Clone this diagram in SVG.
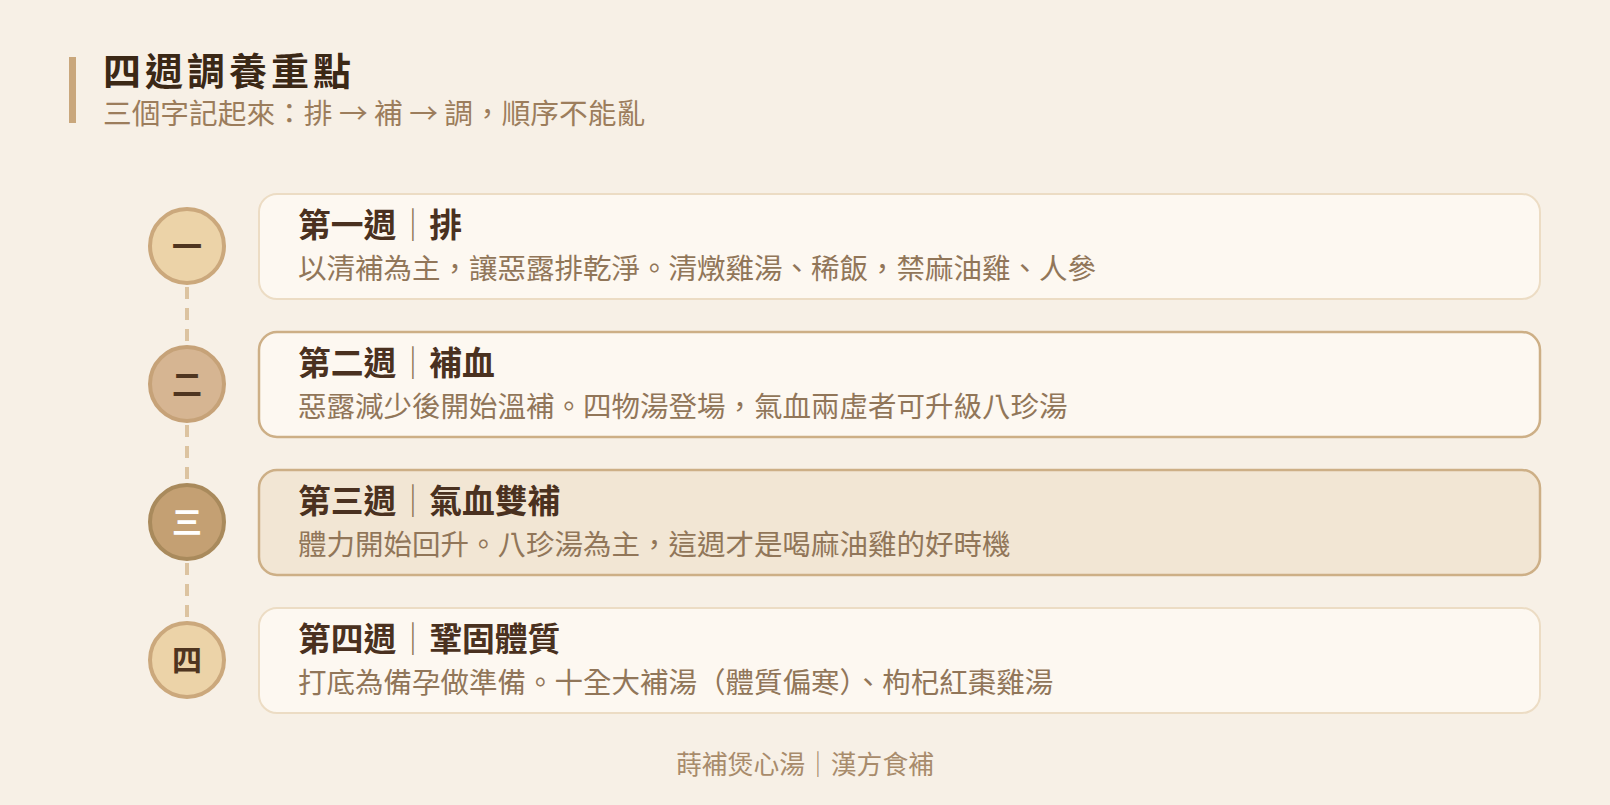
<svg xmlns="http://www.w3.org/2000/svg" width="1610" height="805" viewBox="0 0 1610 805">
<style>
.cjk{font-family:"Noto Sans CJK TC","Noto Sans CJK SC",sans-serif}
.h1{font-size:38px;font-weight:700;fill:#3b2816;letter-spacing:4px}
.sub{font-size:28.7px;fill:#9c7d5c}
.ct{font-size:32.8px;font-weight:700;fill:#4a3120}
.sep{font-weight:400;fill:#8f7458}
.cd{font-size:28.5px;fill:#917659}
.num{font-size:30px;font-weight:700;fill:#4f3520;text-anchor:middle}
.card{fill:#fdf8f1;stroke:#ecdcc4;stroke-width:2}
.card.hl{stroke:#cdaf86;stroke-width:2.5}
.card.on{fill:#f2e6d4;stroke:#cdaf86;stroke-width:2.5}
.foot{font-size:25.8px;fill:#a88b6b;text-anchor:middle}
.dash{stroke:#dcc3a0;stroke-width:4;stroke-dasharray:12 9;fill:none}
</style>
<rect width="1610" height="805" fill="#f7f0e6"/>
<g id="header">
<rect x="69" y="57" width="7" height="66" fill="#c9a77c"/>
<text class="cjk h1" x="103" y="85">四週調養重點</text>
<text class="cjk sub" x="103" y="124">三個字記起來：排 → 補 → 調，順序不能亂</text>
</g>
<g id="connectors">
<line class="dash" x1="187" y1="287" x2="187" y2="343"/>
<line class="dash" x1="187" y1="425" x2="187" y2="481"/>
<line class="dash" x1="187" y1="563" x2="187" y2="619"/>
</g>
<g id="week1">
<circle cx="187" cy="246" r="37" fill="#ecd3a8" stroke="#cba87c" stroke-width="4"/>
<text class="cjk num" x="187" y="257">一</text>
<rect class="card" x="259" y="194" width="1281" height="105" rx="18"/>
<text class="cjk ct" x="298" y="237">第一週<tspan class="sep">｜</tspan>排</text>
<text class="cjk cd" x="298" y="279">以清補為主，讓惡露排乾淨。清燉雞湯、稀飯，禁麻油雞、人參</text>
</g>
<g id="week2">
<circle cx="187" cy="384" r="37" fill="#d6b592" stroke="#c6a278" stroke-width="4"/>
<text class="cjk num" x="187" y="395">二</text>
<rect class="card hl" x="259" y="332" width="1281" height="105" rx="18"/>
<text class="cjk ct" x="298" y="375">第二週<tspan class="sep">｜</tspan>補血</text>
<text class="cjk cd" x="298" y="417">惡露減少後開始溫補。四物湯登場，氣血兩虛者可升級八珍湯</text>
</g>
<g id="week3">
<circle cx="187" cy="522" r="37" fill="#c4a073" stroke="#a98a5c" stroke-width="4"/>
<text class="cjk num" x="187" y="533" style="fill:#ffffff">三</text>
<rect class="card on" x="259" y="470" width="1281" height="105" rx="18"/>
<text class="cjk ct" x="298" y="513">第三週<tspan class="sep">｜</tspan>氣血雙補</text>
<text class="cjk cd" x="298" y="555">體力開始回升。八珍湯為主，這週才是喝麻油雞的好時機</text>
</g>
<g id="week4">
<circle cx="187" cy="660" r="37" fill="#ecd3a8" stroke="#cba87c" stroke-width="4"/>
<text class="cjk num" x="187" y="671">四</text>
<rect class="card" x="259" y="608" width="1281" height="105" rx="18"/>
<text class="cjk ct" x="298" y="651">第四週<tspan class="sep">｜</tspan>鞏固體質</text>
<text class="cjk cd" x="298" y="693">打底為備孕做準備。十全大補湯（體質偏寒）、枸杞紅棗雞湯</text>
</g>
<g id="footer">
<text class="cjk foot" x="805" y="774">蒔補煲心湯｜漢方食補</text>
</g>
</svg>
